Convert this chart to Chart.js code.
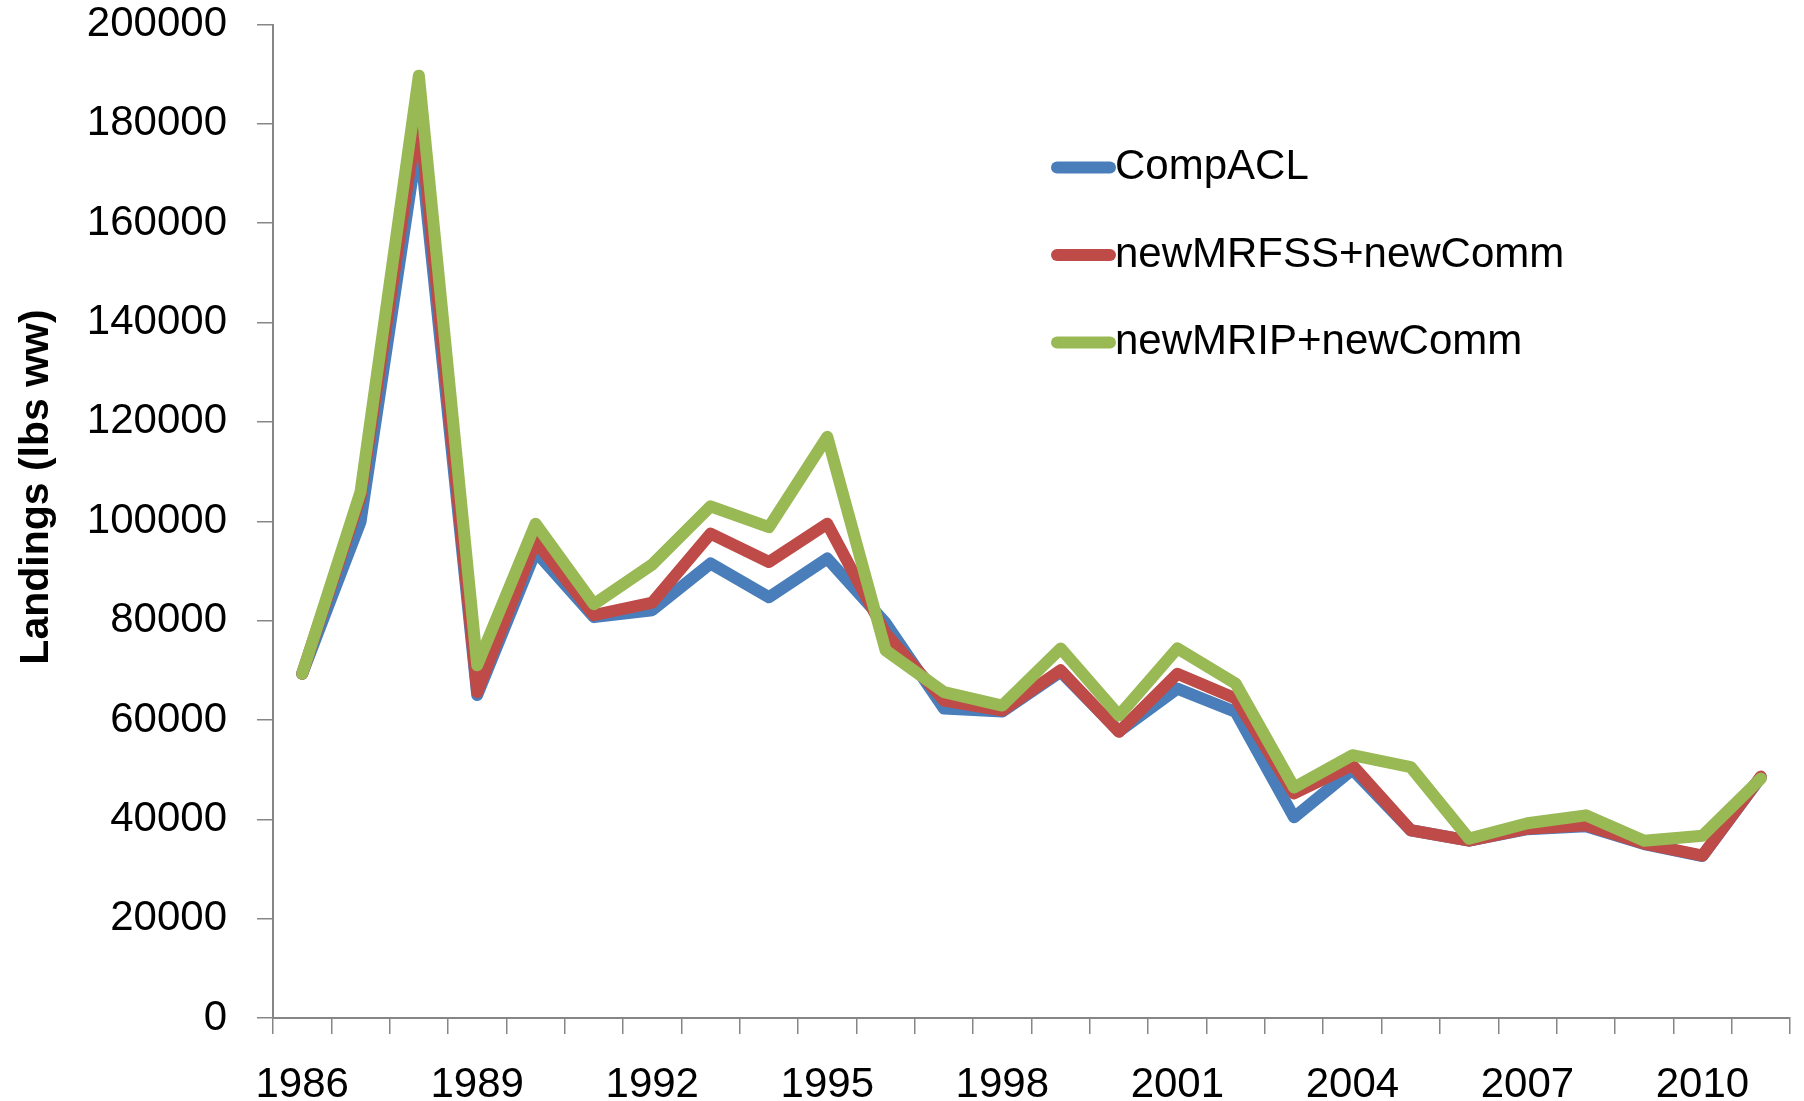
<!DOCTYPE html>
<html>
<head>
<meta charset="utf-8">
<script src="https://cdn.jsdelivr.net/npm/chart.js@4/dist/chart.umd.min.js"></script>
<style>
  html, body { margin: 0; padding: 0; background: #ffffff; }
  #wrap { width: 1804px; height: 1101px; position: relative; }
</style>
</head>
<body>
<div id="wrap"><canvas id="c" width="1804" height="1101"></canvas></div>
<script>
// ---------------- data ----------------
const years = ['1986','1987','1988','1989','1990','1991','1992','1993','1994','1995','1996','1997','1998',
               '1999','2000','2001','2002','2003','2004','2005','2006','2007','2008','2009','2010','2011'];
const shownYearLabels = ['1986','1989','1992','1995','1998','2001','2004','2007','2010'];
const yTickValues = [0, 20000, 40000, 60000, 80000, 100000, 120000, 140000, 160000, 180000, 200000];

const compACL = [69300, 99900, 178000, 65000, 93900, 80700, 82100, 91500, 84700, 92500, 79500, 62300, 61700,
                 69700, 57700, 66300, 61600, 40400, 50000, 37800, 35700, 38000, 38600, 35000, 32600, 48500];
const newMRFSSnewComm = [69300, 104900, 183000, 65600, 96000, 81100, 83600, 97500, 91800, 99500, 77400, 63900, 61900,
                         70000, 57600, 69300, 64300, 45200, 50900, 37800, 35700, 38100, 38800, 35100, 32700, 48600];
const newMRIPnewComm = [69300, 105900, 189700, 71000, 99500, 83300, 91300, 103000, 98800, 117000, 74000, 65600, 62900,
                        74400, 60900, 74400, 67300, 46400, 52900, 50500, 36100, 39200, 40800, 35700, 36700, 48200];

const seriesNames = ['CompACL', 'newMRFSS+newComm', 'newMRIP+newComm'];
const seriesColors = ['#4A7EBB', '#BE4B48', '#98B954'];
const yAxisTitle = 'Landings (lbs ww)';

// ---------------- chart ----------------
const FONT = '"Liberation Sans", Arial, sans-serif';
const AXIS_COLOR = '#868686';
const LINE_W = 12;

const overlay = {
  id: 'overlay',
  afterDraw(chart) {
    const ctx = chart.ctx;
    // rotated axis title
    ctx.save();
    ctx.translate(37, 487);
    ctx.rotate(-Math.PI / 2);
    ctx.font = 'bold 41px ' + FONT;
    ctx.fillStyle = '#000';
    ctx.textAlign = 'center';
    ctx.textBaseline = 'middle';
    ctx.fillText(yAxisTitle, 0, 0);
    ctx.restore();
    // legend inside plot
    ctx.save();
    chart.data.datasets.forEach((ds, i) => {
      const yc = 167.5 + i * 87.5;
      ctx.strokeStyle = ds.borderColor;
      ctx.lineWidth = LINE_W;
      ctx.lineCap = 'round';
      ctx.beginPath();
      ctx.moveTo(1057, yc);
      ctx.lineTo(1110, yc);
      ctx.stroke();
      ctx.font = '42px ' + FONT;
      ctx.fillStyle = '#000';
      ctx.textAlign = 'left';
      ctx.textBaseline = 'middle';
      ctx.fillText(ds.label, 1115, yc);
    });
    ctx.restore();
  }
};

function makeDataset(label, data, color, order) {
  return {
    label, data, order,
    borderColor: color,
    backgroundColor: color,
    borderWidth: LINE_W,
    borderJoinStyle: 'round',
    borderCapStyle: 'round',
    pointRadius: 0,
    pointHoverRadius: 0,
    tension: 0,
    fill: false
  };
}

function draw() {
  new Chart(document.getElementById('c'), {
    type: 'line',
    data: {
      labels: years,
      datasets: [
        makeDataset(seriesNames[0], compACL, seriesColors[0], 3),
        makeDataset(seriesNames[1], newMRFSSnewComm, seriesColors[1], 2),
        makeDataset(seriesNames[2], newMRIPnewComm, seriesColors[2], 1)
      ]
    },
    options: {
      responsive: false,
      animation: false,
      devicePixelRatio: 1,
      layout: { padding: { top: 24.5, right: 14, bottom: 0, left: 0 } },
      plugins: {
        legend: { display: false },
        title: { display: false },
        tooltip: { enabled: false }
      },
      scales: {
        x: {
          type: 'category',
          offset: true,
          grid: {
            offset: true,
            drawOnChartArea: false,
            drawTicks: true,
            tickLength: 16,
            color: AXIS_COLOR,
            lineWidth: 1.5
          },
          border: { display: true, color: AXIS_COLOR, width: 2 },
          ticks: {
            autoSkip: false,
            maxRotation: 0,
            minRotation: 0,
            padding: 26,
            color: '#000',
            font: { family: FONT, size: 42 },
            callback: function (v) {
              const l = this.getLabelForValue(v);
              return shownYearLabels.includes(l) ? l : '';
            }
          },
          afterFit(scale) {
            scale.height = 83;
            scale.paddingLeft = 0;
            scale.paddingRight = 0;
          }
        },
        y: {
          min: yTickValues[0],
          max: yTickValues[yTickValues.length - 1],
          afterBuildTicks(scale) { scale.ticks = yTickValues.map(v => ({ value: v })); },
          grid: {
            drawOnChartArea: false,
            drawTicks: true,
            tickLength: 16,
            color: AXIS_COLOR,
            lineWidth: 1.5
          },
          border: { display: true, color: AXIS_COLOR, width: 2 },
          ticks: {
            padding: 30,
            color: '#000',
            font: { family: FONT, size: 42 },
            callback: v => String(v)
          },
          afterFit(scale) {
            scale.width = 273;
            scale.paddingTop = 0;
            scale.paddingBottom = 0;
          }
        }
      }
    },
    plugins: [overlay]
  });
}

if (document.fonts && document.fonts.load) {
  Promise.all([
    document.fonts.load('42px "Liberation Sans"'),
    document.fonts.load('bold 41px "Liberation Sans"')
  ]).then(draw, draw);
} else {
  draw();
}
</script>
</body>
</html>
